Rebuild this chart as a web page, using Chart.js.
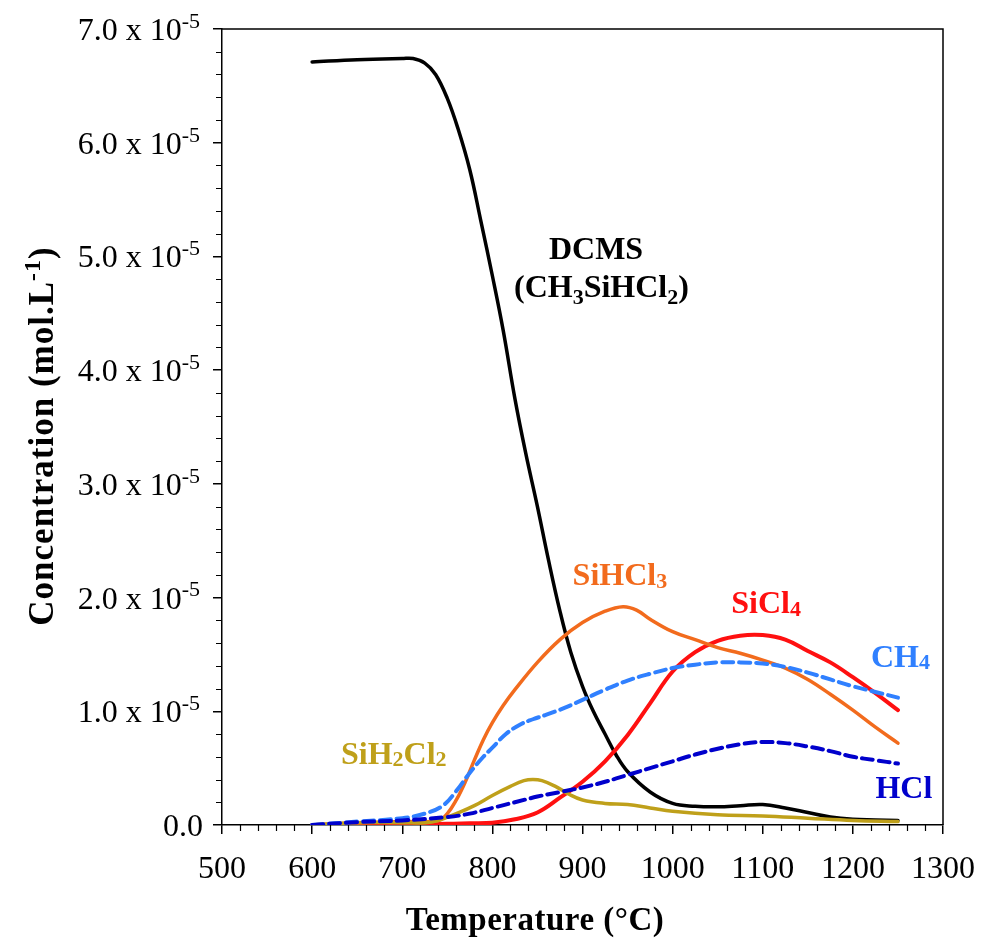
<!DOCTYPE html>
<html>
<head>
<meta charset="utf-8">
<script src="https://cdn.jsdelivr.net/npm/chart.js@4.4.1/dist/chart.umd.min.js"></script>
<style>
  html, body { margin: 0; padding: 0; background: #fff; }
  #wrap { width: 987px; height: 944px; }
</style>
</head>
<body>
<div id="wrap"><canvas id="grafico" width="987" height="944"></canvas></div>
<script>
// concentrations are in units of 1e-5 mol/L, temperatures in °C
const dcmsT = [600, 650, 700, 712, 725, 737, 750, 762, 775, 787, 800, 812, 825, 837, 850, 862, 875, 887, 900, 912, 925, 937, 950, 975, 1000, 1025, 1050, 1075, 1100, 1125, 1150, 1175, 1200, 1225, 1250];
const dcmsC = [6.71, 6.73, 6.74, 6.74, 6.70, 6.60, 6.39, 6.12, 5.76, 5.32, 4.83, 4.35, 3.75, 3.27, 2.80, 2.34, 1.88, 1.52, 1.22, 1.00, 0.80, 0.62, 0.47, 0.29, 0.19, 0.165, 0.16, 0.17, 0.18, 0.15, 0.11, 0.07, 0.05, 0.045, 0.04];

const sihcl3T = [600, 650, 700, 740, 750, 760, 770, 780, 790, 800, 812, 825, 850, 875, 900, 925, 945, 960, 975, 1000, 1025, 1050, 1075, 1100, 1125, 1150, 1175, 1200, 1225, 1250];
const sihcl3C = [0.0, 0.02, 0.03, 0.04, 0.10, 0.22, 0.38, 0.57, 0.75, 0.90, 1.05, 1.19, 1.43, 1.63, 1.78, 1.88, 1.92, 1.89, 1.81, 1.70, 1.63, 1.56, 1.51, 1.45, 1.38, 1.28, 1.15, 1.01, 0.86, 0.72];

const sicl4T = [600, 650, 700, 750, 775, 800, 825, 850, 875, 900, 925, 950, 975, 1000, 1025, 1050, 1075, 1100, 1125, 1150, 1175, 1200, 1225, 1250];
const sicl4C = [0.0, 0.0, 0.005, 0.01, 0.015, 0.02, 0.05, 0.11, 0.24, 0.38, 0.56, 0.79, 1.07, 1.35, 1.52, 1.62, 1.665, 1.67, 1.63, 1.53, 1.43, 1.30, 1.16, 1.01];

const sih2cl2T = [600, 650, 700, 725, 740, 760, 780, 800, 820, 835, 845, 855, 870, 885, 900, 925, 950, 975, 1000, 1050, 1100, 1150, 1200, 1250];
const sih2cl2C = [0.0, 0.02, 0.02, 0.02, 0.04, 0.10, 0.17, 0.26, 0.34, 0.39, 0.40, 0.39, 0.34, 0.27, 0.22, 0.19, 0.18, 0.15, 0.12, 0.09, 0.08, 0.06, 0.04, 0.03];

const ch4T = [600, 650, 700, 725, 745, 760, 775, 790, 800, 815, 830, 845, 860, 880, 900, 925, 950, 975, 1000, 1025, 1050, 1075, 1100, 1125, 1150, 1175, 1200, 1225, 1250];
const ch4C = [0.0, 0.03, 0.06, 0.10, 0.17, 0.30, 0.46, 0.60, 0.68, 0.80, 0.88, 0.93, 0.97, 1.03, 1.10, 1.19, 1.27, 1.33, 1.38, 1.41, 1.43, 1.43, 1.42, 1.39, 1.34, 1.28, 1.22, 1.17, 1.12];

const hclT = [600, 650, 700, 750, 775, 800, 825, 850, 875, 900, 925, 950, 975, 1000, 1025, 1050, 1075, 1100, 1125, 1150, 1175, 1200, 1225, 1250];
const hclC = [0.0, 0.025, 0.04, 0.07, 0.10, 0.15, 0.20, 0.25, 0.29, 0.33, 0.38, 0.44, 0.50, 0.56, 0.62, 0.67, 0.71, 0.73, 0.72, 0.69, 0.65, 0.60, 0.57, 0.54];

const xTicks = [500, 600, 700, 800, 900, 1000, 1100, 1200, 1300];
const yTicks = [0, 1, 2, 3, 4, 5, 6, 7];

// label anchors in data coordinates: [temperature, concentration]
const etiquetas = [
    { partes: [["DCMS", 0]], pos: [915, 4.98], color: "#000", centro: true },
    { partes: [["(CH", 0], ["3", 1], ["SiHCl", 0], ["2", 1], [")", 0]], pos: [921, 4.64], color: "#000", centro: true },
    { partes: [["SiHCl", 0], ["3", 2]], pos: [889, 2.11], color: "#f26b1d" },
    { partes: [["SiCl", 0], ["4", 2]], pos: [1065, 1.86], color: "#ff1010" },
    { partes: [["CH", 0], ["4", 2]], pos: [1220, 1.39], color: "#3080ff" },
    { partes: [["HCl", 0]], pos: [1225, 0.24], color: "#0000cc" },
    { partes: [["SiH", 0], ["2", 2], ["Cl", 0], ["2", 2]], pos: [632, 0.54], color: "#bfa01a" }
];

function serie(t, c) {
    return t.map((v, i) => ({ x: v, y: c[i] }));
}

const SERIF = '"Liberation Serif", "Times New Roman", serif';

function textoCompuesto(ctx, partes, x, y, size, bold, alinear) {
    const peso = bold ? "bold " : "";
    const medir = () => partes.reduce((w, p) => {
        ctx.font = peso + (p[1] ? Math.round(size * 0.68) : size) + "px " + SERIF;
        return w + ctx.measureText(p[0]).width;
    }, 0);
    let cx = alinear === "center" ? x - medir() / 2 : (alinear === "right" ? x - medir() : x);
    partes.forEach(p => {
        let dy = 0;
        if (p[1] === 1) dy = size * 0.22;      // real subscript
        if (p[1] === 2) dy = size * 0.08;      // small digit near baseline
        if (p[1] === 3) dy = -size * 0.38;     // superscript
        ctx.font = peso + (p[1] ? Math.round(size * 0.68) : size) + "px " + SERIF;
        ctx.fillText(p[0], cx, y + dy);
        cx += ctx.measureText(p[0]).width;
    });
}

const decoracion = {
    id: "decoracion",
    afterDraw(chart) {
        const ctx = chart.ctx;
        const a = chart.chartArea;
        const sx = chart.scales.x;
        const sy = chart.scales.y;
        ctx.save();
        ctx.strokeStyle = "#000";
        ctx.lineWidth = 1.5;
        // top and right frame
        ctx.beginPath();
        ctx.moveTo(a.left, a.top);
        ctx.lineTo(a.right, a.top);
        ctx.lineTo(a.right, a.bottom);
        ctx.stroke();
        // minor ticks
        ctx.lineWidth = 1.2;
        ctx.beginPath();
        for (let v = 500; v <= 1300; v += 20) {
            if (v % 100 === 0) continue;
            const px = Math.round(sx.getPixelForValue(v)) + 0.5;
            ctx.moveTo(px, a.bottom);
            ctx.lineTo(px, a.bottom + 6);
        }
        for (let k = 0; k <= 35; k++) {
            if (k % 5 === 0) continue;
            const py = Math.round(sy.getPixelForValue(k / 5)) + 0.5;
            ctx.moveTo(a.left, py);
            ctx.lineTo(a.left - 6, py);
        }
        ctx.stroke();

        ctx.fillStyle = "#000";
        // x tick labels
        ctx.font = "32px " + SERIF;
        ctx.textAlign = "center";
        ctx.textBaseline = "alphabetic";
        xTicks.forEach(v => ctx.fillText(String(v), sx.getPixelForValue(v), a.bottom + 53));
        // y tick labels
        ctx.textAlign = "left";
        yTicks.forEach(v => {
            const py = sy.getPixelForValue(v) + 11;
            if (v === 0) {
                textoCompuesto(ctx, [["0.0", 0]], a.left - 19, py, 32, false, "right");
            } else {
                textoCompuesto(ctx, [[v.toFixed(1) + " x 10", 0], ["-5", 3]], a.left - 22, py, 32, false, "right");
            }
        });
        // axis titles
        ctx.letterSpacing = "0.5px";
        textoCompuesto(ctx, [["Temperature (°C)", 0]], 535, 930, 33, true, "center");
        ctx.save();
        ctx.letterSpacing = "1px";
        ctx.translate(53, 436);
        ctx.rotate(-Math.PI / 2);
        textoCompuesto(ctx, [["Concentration (mol.L", 0], ["-1", 3], [")", 0]], 0, 0, 35, true, "center");
        ctx.restore();
        ctx.letterSpacing = "0px";
        // curve labels
        etiquetas.forEach(e => {
            ctx.fillStyle = e.color;
            textoCompuesto(ctx, e.partes, sx.getPixelForValue(e.pos[0]), sy.getPixelForValue(e.pos[1]), 32, true, e.centro ? "center" : "left");
        });
        ctx.restore();
    }
};

function crearGrafico(id) {
    const ctx = document.getElementById(id).getContext("2d");
    const ejeBase = {
        grid: { drawOnChartArea: false, drawTicks: true, tickLength: 9, color: "#000", lineWidth: 1.5 },
        border: { display: true, color: "#000", width: 1.5 }
    };
    return new Chart(ctx, {
        type: "line",
        data: {
            datasets: [
                { label: "HCl", data: serie(hclT, hclC), borderColor: "#0000cc", borderWidth: 4, borderDash: [11, 6] },
                { label: "CH4", data: serie(ch4T, ch4C), borderColor: "#3080ff", borderWidth: 4, borderDash: [11, 6] },
                { label: "SiH2Cl2", data: serie(sih2cl2T, sih2cl2C), borderColor: "#bfa01a", borderWidth: 3.5 },
                { label: "SiHCl3", data: serie(sihcl3T, sihcl3C), borderColor: "#f26b1d", borderWidth: 3.5 },
                { label: "SiCl4", data: serie(sicl4T, sicl4C), borderColor: "#ff1010", borderWidth: 4 },
                { label: "DCMS", data: serie(dcmsT, dcmsC), borderColor: "#000000", borderWidth: 3.5 }
            ]
        },
        options: {
            responsive: false,
            animation: false,
            layout: { padding: { left: 213, right: 44, top: 29, bottom: 110 } },
            plugins: { legend: { display: false }, tooltip: { enabled: false } },
            elements: {
                point: { radius: 0 },
                line: { tension: 0.4, fill: false, borderCapStyle: "round", borderJoinStyle: "round" }
            },
            scales: {
                x: Object.assign({ type: "linear", min: 500, max: 1300, ticks: { display: false, stepSize: 100 } }, ejeBase),
                y: Object.assign({ type: "linear", min: 0, max: 7, ticks: { display: false, stepSize: 1 } }, ejeBase)
            }
        },
        plugins: [decoracion]
    });
}

crearGrafico("grafico");
</script>
</body>
</html>
